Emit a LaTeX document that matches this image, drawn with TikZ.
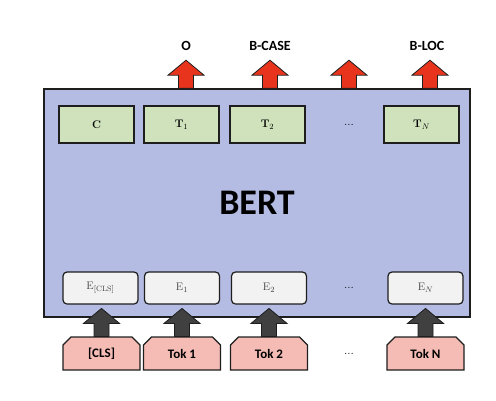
\documentclass[tikz,border=0pt]{standalone}
\usepackage{fontspec}
\setsansfont{Carlito}
\usetikzlibrary{shapes.misc}

\definecolor{bertblue}{RGB}{180,188,228}
\definecolor{outgreen}{RGB}{208,226,188}
\definecolor{tokpink}{RGB}{244,188,180}
\definecolor{arrowred}{RGB}{232,52,28}
\definecolor{arrowgray}{RGB}{64,64,64}
\definecolor{embgray}{RGB}{242,242,242}
\definecolor{edge}{RGB}{30,30,30}

\tikzset{
  uparrow/.pic={
    \draw[pic actions] (-7.5,0) -- (-7.5,-13) -- (-18,-13) -- (0,-28)
      -- (18,-13) -- (7.5,-13) -- (7.5,0) -- cycle;
  }
}

\begin{document}
\begin{tikzpicture}[
x=1pt, y=-1pt,
bertbox/.style={draw=edge, line width=1.6pt, fill=bertblue,
    minimum width=426pt, minimum height=228pt,
    font=\sffamily\bfseries\fontsize{36}{36}\selectfont},
outbox/.style={draw=edge, line width=1.2pt, fill=outgreen,
    minimum width=75pt, minimum height=37pt,
    font=\bfseries\fontsize{11}{11}\selectfont},
embbox/.style={draw=edge, line width=1.2pt, fill=embgray, rounded corners=4pt,
    minimum width=75pt, minimum height=32pt, text=black!75,
    font=\fontsize{11}{11}\selectfont},
tokbox/.style={draw=edge, line width=1.2pt, fill=tokpink,
    chamfered rectangle, chamfered rectangle corners={north east,north west},
    chamfered rectangle xsep=4pt, chamfered rectangle ysep=4pt,
    minimum width=77pt, minimum height=33pt, inner sep=0pt,
    font=\sffamily\bfseries\fontsize{13}{13}\selectfont},
tag/.style={font=\sffamily\bfseries\fontsize{14}{14}\selectfont},
dots/.style={font=\fontsize{12}{12}\selectfont},
]
\useasboundingbox (0,0) rectangle (496,400);

% the encoder
\node[bertbox] (bert) at (257,203) {BERT};

% outputs
\node[outbox] (c)  at (96.5,124.5)  {C};
\node[outbox] (t1) at (181.5,124.5) {T$_1$};
\node[outbox] (t2) at (267.5,124.5) {T$_2$};
\node[dots]   (td) at (349,124.5)   {...};
\node[outbox] (tn) at (421.5,124.5) {T$_N$};

% embeddings
\node[embbox] (e0) at (100.5,288) {E$_{\mathrm{[CLS]}}$};
\node[embbox] (e1) at (182,288)   {E$_1$};
\node[embbox] (e2) at (269,288)   {E$_2$};
\node[dots]   (ed) at (349,288)   {...};
\node[embbox] (en) at (425.5,288) {E$_N$};

% input tokens
\node[tokbox] (tok0) at (101.5,353.5) {[CLS]};
\node[tokbox] (tok1) at (182,353.5)   {Tok 1};
\node[tokbox] (tok2) at (269,353.5)   {Tok 2};
\node[dots]   (tokd) at (349,353.5)   {...};
\node[tokbox] (tokn) at (425.5,353.5) {Tok N};

% red arrows out of the encoder
\pic[draw=edge, line width=0.8pt, fill=arrowred] at ([xshift=4.5pt]t1 |- bert.north) {uparrow};
\pic[draw=edge, line width=0.8pt, fill=arrowred] at ([xshift=2.5pt]t2 |- bert.north) {uparrow};
\pic[draw=edge, line width=0.8pt, fill=arrowred] at (td |- bert.north) {uparrow};
\pic[draw=edge, line width=0.8pt, fill=arrowred] at ([xshift=8.5pt]tn |- bert.north) {uparrow};

% tags
\node[tag] (o)     at (186,46) {O};
\node[tag] (bcase) at (270,46) {B-CASE};
\node[tag] (bloc)  at (427,46) {B-LOC};

% gray arrows into the embeddings
\pic[draw=edge, line width=0.8pt, fill=arrowgray] at (tok0.north) {uparrow};
\pic[draw=edge, line width=0.8pt, fill=arrowgray] at (tok1.north) {uparrow};
\pic[draw=edge, line width=0.8pt, fill=arrowgray] at (tok2.north) {uparrow};
\pic[draw=edge, line width=0.8pt, fill=arrowgray] at (tokn.north) {uparrow};

\end{tikzpicture}
\end{document}
